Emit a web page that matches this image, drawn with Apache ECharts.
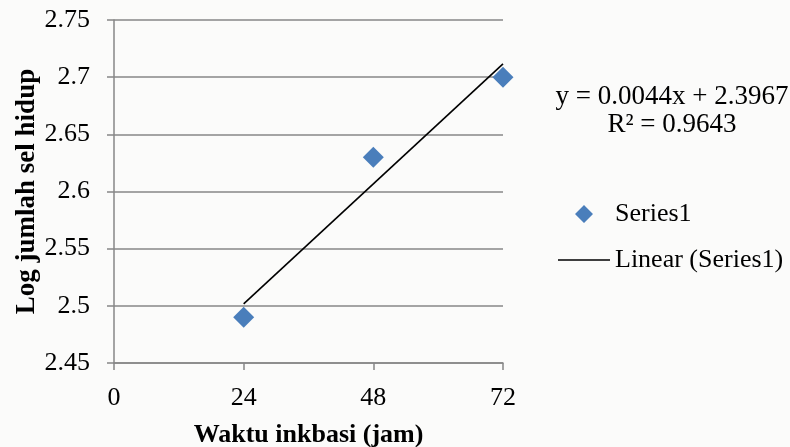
<!DOCTYPE html>
<html>
<head>
<meta charset="utf-8">
<script src="https://cdn.jsdelivr.net/npm/echarts@6/dist/echarts.min.js"></script>
<style>
  html, body { margin: 0; padding: 0; background: #fbfbfa; }
  #chart { width: 790px; height: 447px; }
</style>
</head>
<body>
<div id="chart"></div>
<script>
// Incubation time (hours) and log count of viable cells
const waktuJam = [24, 48, 72];
const logSelHidup = [2.49, 2.63, 2.70];

const xTicks = { min: 0, max: 72, interval: 24 };
const yTicks = { min: 2.45, max: 2.75, interval: 0.05 };

const seriesName = 'Series1';
const trendName = 'Linear (Series1)';
const xAxisTitle = 'Waktu inkbasi (jam)';
const yAxisTitle = 'Log jumlah sel hidup';

// Least-squares linear trendline over the observed points
function linearFit(xs, ys) {
  const n = xs.length;
  const mx = xs.reduce((a, b) => a + b, 0) / n;
  const my = ys.reduce((a, b) => a + b, 0) / n;
  let sxy = 0, sxx = 0, syy = 0;
  for (let i = 0; i < n; i++) {
    sxy += (xs[i] - mx) * (ys[i] - my);
    sxx += (xs[i] - mx) * (xs[i] - mx);
    syy += (ys[i] - my) * (ys[i] - my);
  }
  const slope = sxy / sxx;
  const intercept = my - slope * mx;
  const r2 = (sxy * sxy) / (sxx * syy);
  return { slope, intercept, r2 };
}

const fit = linearFit(waktuJam, logSelHidup);
const xLo = Math.min(...waktuJam), xHi = Math.max(...waktuJam);
const trendData = [
  [xLo, fit.intercept + fit.slope * xLo],
  [xHi, fit.intercept + fit.slope * xHi]
];
const eqLine = 'y = ' + fit.slope.toFixed(4) + 'x + ' + fit.intercept.toFixed(4);
const r2Line = 'R\u00B2 = ' + fit.r2.toFixed(4);

const FONT = "'Liberation Serif', 'Times New Roman', serif";
const AXIS_GREY = '#878787';
const MARK_BLUE = '#4a7ebb';

// Legend icons drawn inside a 52x19 box (zero-length subpaths pin the box corners)
const BOX = 'M0,0L0,0Z M52,19L52,19Z ';
const diamondIcon = 'path://' + BOX + 'M26,0.5L35,9.5L26,18.5L17,9.5Z';
const lineIcon = 'path://' + BOX + 'M0,8.7L52,8.7L52,10.3L0,10.3Z';

const chart = echarts.init(document.getElementById('chart'), null, { renderer: 'canvas' });

chart.setOption({
  backgroundColor: '#fbfbfa',
  animation: false,
  textStyle: { fontFamily: FONT },
  grid: { left: 114, right: 287, top: 20, bottom: 84, outerBoundsMode: 'none', containLabel: false },
  xAxis: {
    type: 'value',
    min: xTicks.min, max: xTicks.max, interval: xTicks.interval,
    name: xAxisTitle,
    nameLocation: 'middle',
    nameGap: 59,
    nameTextStyle: { fontFamily: FONT, fontSize: 26, fontWeight: 'bold', color: '#000' },
    axisLine: { show: true, lineStyle: { color: AXIS_GREY, width: 1.5 } },
    axisTick: { show: true, length: 7, inside: false, lineStyle: { color: AXIS_GREY, width: 1.5 } },
    axisLabel: { fontFamily: FONT, fontSize: 26, color: '#000', margin: 22 },
    splitLine: { show: false }
  },
  yAxis: {
    type: 'value',
    min: yTicks.min, max: yTicks.max, interval: yTicks.interval,
    name: yAxisTitle,
    nameLocation: 'middle',
    nameGap: 72,
    nameTextStyle: { fontFamily: FONT, fontSize: 27, fontWeight: 'bold', color: '#000' },
    axisLine: { show: true, lineStyle: { color: AXIS_GREY, width: 1.5 } },
    axisTick: { show: true, length: 7, inside: false, lineStyle: { color: AXIS_GREY, width: 1.5 } },
    axisLabel: { fontFamily: FONT, fontSize: 26, color: '#000', margin: 24 },
    splitLine: { show: true, lineStyle: { color: AXIS_GREY, width: 1.5 } }
  },
  legend: [
    {
      data: [{ name: seriesName, icon: diamondIcon, itemStyle: { color: MARK_BLUE, opacity: 1 } }],
      orient: 'vertical',
      left: 558, top: 200,
      padding: 0,
      itemWidth: 52, itemHeight: 19,
      textStyle: { fontFamily: FONT, fontSize: 26, color: '#000', lineHeight: 28 },
      selectedMode: false
    },
    {
      data: [{ name: trendName, icon: lineIcon }],
      orient: 'vertical',
      left: 558, top: 246,
      padding: 0,
      itemWidth: 52, itemHeight: 19,
      textStyle: { fontFamily: FONT, fontSize: 26, color: '#000', lineHeight: 28 },
      selectedMode: false
    }
  ],
  graphic: [
    {
      type: 'text',
      x: 672, y: 83,
      style: {
        text: eqLine + '\n' + r2Line,
        font: "27px 'Liberation Serif', 'Times New Roman', serif",
        fill: '#000',
        align: 'center',
        lineHeight: 28
      }
    }
  ],
  series: [
    {
      name: seriesName,
      type: 'scatter',
      data: waktuJam.map((x, i) => [x, logSelHidup[i]]),
      symbol: 'diamond',
      symbolSize: 21,
      itemStyle: { color: MARK_BLUE, opacity: 1 },
      z: 3
    },
    {
      name: trendName,
      type: 'line',
      data: trendData,
      symbol: 'none',
      lineStyle: { color: '#000', width: 1.6 },
      itemStyle: { color: '#000' },
      z: 4
    }
  ]
});
</script>
</body>
</html>
